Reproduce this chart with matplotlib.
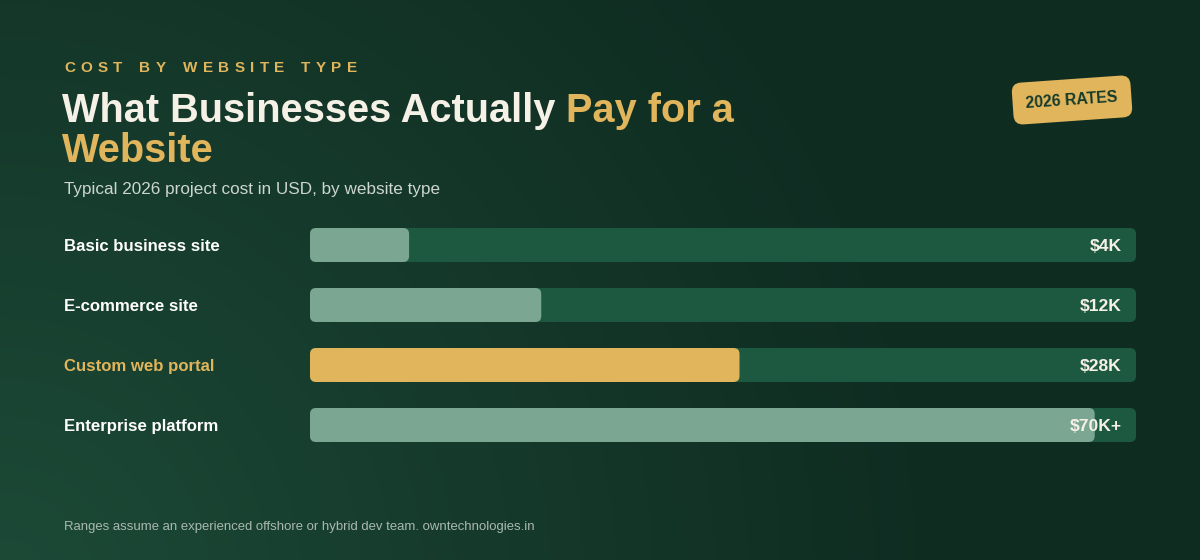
import numpy as np
import matplotlib
matplotlib.use("Agg")
import matplotlib.pyplot as plt
from matplotlib.patches import FancyBboxPatch
import matplotlib.transforms as mtrans

# data
types = ['Basic business site', 'E-commerce site', 'Custom web portal', 'Enterprise platform']
fill_share = [0.12, 0.28, 0.52, 0.95]
cost_labels = ['$4K', '$12K', '$28K', '$70K+']
highlight = 'Custom web portal'

# colours
BG_LIGHT = np.array([0x1d, 0x4b, 0x38]) / 255
BG_DARK = np.array([0x0f, 0x2c, 0x21]) / 255
TRACK = '#1d5840'
FILL = '#7ba692'
GOLD = '#e0b55b'
CREAM = '#f5f1e6'
SUB = '#cdd6cf'
FOOT = '#a9b9ae'

plt.rcParams['font.family'] = ['Liberation Sans', 'DejaVu Sans']

W, H = 1200, 560
fig = plt.figure(figsize=(12, 5.6), dpi=100)

# background gradient
bg = fig.add_axes([0, 0, 1, 1])
yy, xx = np.mgrid[0:H, 0:W]
d = np.sqrt((xx - 0.0) ** 2 + (yy - H * 1.05) ** 2)
t = np.clip(d / 950.0, 0, 1) ** 0.9
img = BG_LIGHT[None, None, :] * (1 - t[..., None]) + BG_DARK[None, None, :] * t[..., None]
bg.imshow(img, extent=[0, W, H, 0], aspect='auto', interpolation='bilinear')
bg.set_xlim(0, W)
bg.set_ylim(H, 0)
bg.axis('off')

# eyebrow with letter spacing
prev = None
for wi, word in enumerate('COST BY WEBSITE TYPE'.split()):
    for ci, ch in enumerate(word):
        if prev is None:
            prev = bg.text(64, 72, ch, color=GOLD, fontsize=11, fontweight='bold', va='baseline')
        else:
            gap = 3.85 if ci > 0 else 12.3
            prev = bg.annotate(ch, xy=(1, 0), xycoords=prev, xytext=(gap, 0),
                               textcoords='offset points', color=GOLD, fontsize=11,
                               fontweight='bold', va='bottom', ha='left')

# title
t1 = bg.text(62, 122, 'What Businesses Actually ', color=CREAM, fontsize=28.6,
             fontweight='bold', va='baseline')
bg.annotate('Pay for a', xy=(1, 0), xycoords=t1, color=GOLD, fontsize=28.6,
            fontweight='bold', va='bottom', ha='left')
bg.text(62, 162, 'Website', color=GOLD, fontsize=28.6, fontweight='bold', va='baseline')

bg.text(64, 194, 'Typical 2026 project cost in USD, by website type', color=SUB,
        fontsize=12.35, va='baseline')

bg.text(64, 530, 'Ranges assume an experienced offshore or hybrid dev team. owntechnologies.in',
        color=FOOT, fontsize=9.45, va='baseline')

# badge
bg.text(1072, 100, '2026 RATES', color='#143a2b', fontsize=11.4, fontweight='bold',
        ha='center', va='center', rotation=4, rotation_mode='anchor',
        bbox=dict(boxstyle='round,pad=0.85,rounding_size=0.6', fc=GOLD, ec='none'))

# bars
ax = fig.add_axes([310 / W, 1 - 455 / H, 826 / W, 240 / H])
ax.set_xlim(0, 1)
ax.set_ylim(len(types) - 0.5, -0.5)
ax.axis('off')

bar_h = 34 / 60
px_x = 1 / 826
asp = (1 / 60) / px_x
r = 6 * px_x
lab_tr = mtrans.blended_transform_factory(fig.transFigure, ax.transData)

for i, (name, share, lab) in enumerate(zip(types, fill_share, cost_labels)):
    y0 = i - bar_h / 2
    ax.add_patch(FancyBboxPatch((0, y0), 1, bar_h,
                                boxstyle='round,pad=0,rounding_size=%f' % r,
                                mutation_aspect=asp, fc=TRACK, ec='none'))
    ax.add_patch(FancyBboxPatch((0, y0), share, bar_h,
                                boxstyle='round,pad=0,rounding_size=%f' % r,
                                mutation_aspect=asp, fc=GOLD if name == highlight else FILL,
                                ec='none'))
    ax.text(1 - 14 * px_x, i + 0.02, lab, color=CREAM, fontsize=12.6, fontweight='bold',
            ha='right', va='center')
    ax.text(64 / W, i + 0.025, name, transform=lab_tr, color=GOLD if name == highlight else 'white',
            fontsize=12.1, fontweight='bold', ha='left', va='center')

fig.savefig('out.png', dpi=100)
